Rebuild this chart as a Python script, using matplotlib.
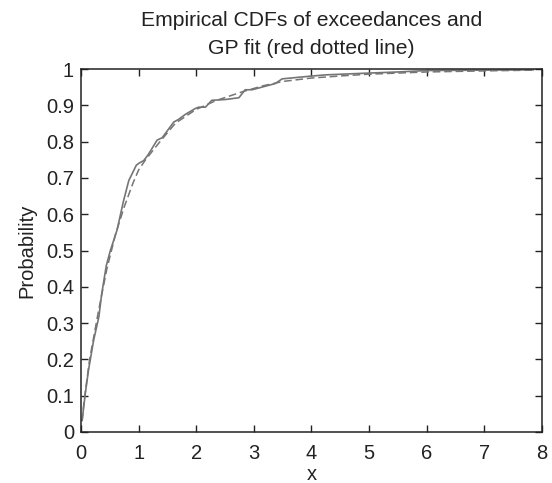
"""Empirical CDF of exceedances vs GP fit."""
import matplotlib
matplotlib.use("Agg")
import matplotlib.pyplot as plt

# empirical CDF (solid)
emp_x = [0.02, 0.075, 0.13, 0.22, 0.31, 0.36, 0.44, 0.51, 0.625, 0.74, 0.83,
         0.96, 1.0, 1.09, 1.17, 1.32, 1.41, 1.61, 1.69, 1.81, 1.98, 2.04,
         2.16, 2.27, 2.50, 2.74, 2.85, 2.97, 3.37, 3.49, 3.95, 4.24, 5.0,
         5.5, 6.0, 7.85]
emp_p = [0.032, 0.106, 0.17, 0.253, 0.317, 0.381, 0.459, 0.50, 0.556, 0.638,
         0.693, 0.735, 0.74, 0.748, 0.765, 0.804, 0.811, 0.854, 0.861, 0.875,
         0.891, 0.895, 0.895, 0.914, 0.916, 0.921, 0.943, 0.943, 0.960,
         0.973, 0.980, 0.984, 0.989, 0.992, 0.996, 0.998]

# GP fit (dashed)
gp_x = [0.02, 0.05, 0.15, 0.3, 0.45, 0.6, 0.75, 0.9, 1.0, 1.12, 1.35, 1.64,
        1.99, 2.34, 2.81, 3.16, 3.51, 3.98, 4.5, 5.0, 6.0, 7.0, 7.85]
gp_p = [0.03, 0.08, 0.2, 0.33, 0.45, 0.545, 0.62, 0.685, 0.722, 0.75, 0.796,
        0.851, 0.888, 0.913, 0.938, 0.954, 0.966, 0.975, 0.981, 0.986, 0.992,
        0.995, 0.997]

xticks = list(range(0, 9))
yticks = [0, 0.1, 0.2, 0.3, 0.4, 0.5, 0.6, 0.7, 0.8, 0.9, 1]
ytick_labels = ["0", "0.1", "0.2", "0.3", "0.4", "0.5", "0.6", "0.7", "0.8", "0.9", "1"]

plt.rcParams["font.family"] = ["Liberation Sans", "DejaVu Sans"]

fig = plt.figure(figsize=(5.52, 4.83), dpi=100)
ax = fig.add_axes([0.1467, 0.1056, 0.8352, 0.7514])

ax.plot(emp_x, emp_p, color="#757575", lw=1.2, solid_joinstyle="round")
ax.plot(gp_x, gp_p, color="#757575", lw=1.1, linestyle=(0, (5, 2.5)))

ax.set_xlim(0, 8)
ax.set_ylim(0, 1)
ax.set_xticks(xticks)
ax.set_yticks(yticks)
ax.set_yticklabels(ytick_labels)
ax.tick_params(direction="in", length=5, width=1, top=True, right=True,
               labelsize=14.5, colors="#222222")
ax.tick_params(axis="x", pad=9)
ax.tick_params(axis="y", pad=5)
for s in ax.spines.values():
    s.set_color("#222222")
    s.set_linewidth(1.1)

ax.set_xlabel("x", fontsize=14.5, color="#222222", labelpad=1)
ax.set_ylabel("Probability", fontsize=14.5, color="#222222", labelpad=7)
ax.set_title("Empirical CDFs of exceedances and\nGP fit (red dotted line)",
             fontsize=15.2, color="#222222", pad=10.5, linespacing=1.6)

fig.savefig("out.png", dpi=100)
